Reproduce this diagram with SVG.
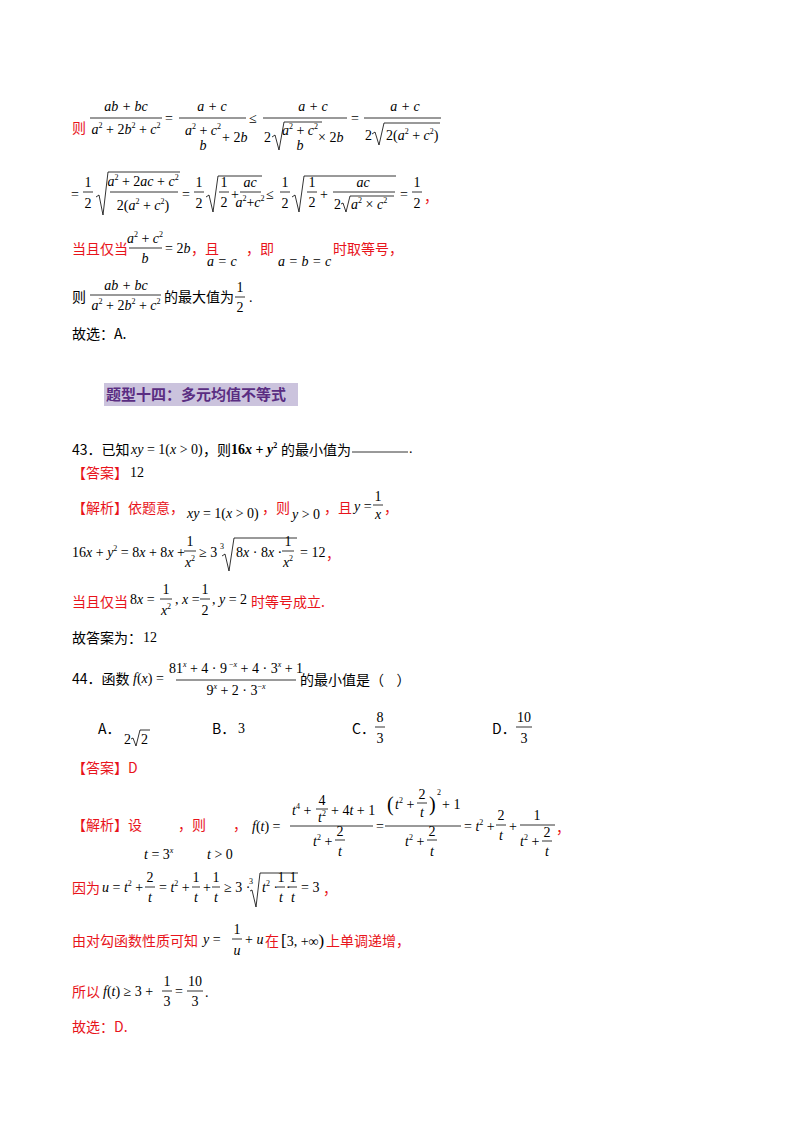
<svg xmlns="http://www.w3.org/2000/svg" width="800" height="1132" viewBox="0 0 800 1132">
<style>
.c{font-family:"Noto Sans CJK SC","Noto Sans",sans-serif;font-size:14px;fill:#000}
.r{fill:#e8141b}
.m{font-family:"Liberation Serif",serif;font-size:14px;fill:#000}
.i{font-style:italic}
.mid{text-anchor:middle}
.b{stroke:#000;stroke-width:0.8;fill:none}
.sup{font-size:8px}
</style>
<rect width="800" height="1132" fill="#fff"/>
<g id="block1">
<text class="c r" x="72" y="133">则</text>
<text class="m i mid" x="126" y="111">ab + bc</text>
<line class="b" x1="90" y1="118" x2="162" y2="118"/>
<text class="m mid" x="126" y="134"><tspan class="i">a</tspan><tspan class="sup" dy="-6">2</tspan><tspan dy="6"> + 2</tspan><tspan class="i">b</tspan><tspan class="sup" dy="-6">2</tspan><tspan dy="6"> + </tspan><tspan class="i">c</tspan><tspan class="sup" dy="-6">2</tspan></text>
<text class="m" x="165" y="123">=</text>
<text class="m i mid" x="212" y="111">a + c</text>
<line class="b" x1="179" y1="118" x2="246" y2="118"/>
<text class="m mid" x="203" y="135"><tspan class="i">a</tspan><tspan class="sup" dy="-6">2</tspan><tspan dy="6"> + </tspan><tspan class="i">c</tspan><tspan class="sup" dy="-6">2</tspan></text>
<text class="m i mid" x="203" y="150">b</text>
<text class="m" x="222" y="142">+ 2<tspan class="i">b</tspan></text>
<text class="m" x="249" y="123">≤</text>
<text class="m i mid" x="313" y="111">a + c</text>
<line class="b" x1="263" y1="118" x2="347" y2="118"/>
<text class="m" x="264" y="142">2</text>
<path class="b" d="M272,137 L275,135 L279,150 L284,122 L322,122"/>
<text class="m mid" x="300" y="135"><tspan class="i">a</tspan><tspan class="sup" dy="-6">2</tspan><tspan dy="6"> + </tspan><tspan class="i">c</tspan><tspan class="sup" dy="-6">2</tspan></text>
<text class="m i mid" x="300" y="150">b</text>
<text class="m" x="318" y="142">× 2<tspan class="i">b</tspan></text>
<text class="m" x="351" y="123">=</text>
<text class="m i mid" x="405" y="111">a + c</text>
<line class="b" x1="364" y1="118" x2="441" y2="118"/>
<text class="m" x="365" y="140">2</text>
<path class="b" d="M372,134 L375,132 L379,145 L384,123 L440,123"/>
<text class="m" x="386" y="140">2(<tspan class="i">a</tspan><tspan class="sup" dy="-6">2</tspan><tspan dy="6"> + </tspan><tspan class="i">c</tspan><tspan class="sup" dy="-6">2</tspan><tspan dy="6">)</tspan></text>

<text class="m" x="71" y="199">=</text>
<text class="m mid" x="88" y="187">1</text><line class="b" x1="83" y1="192" x2="93" y2="192"/><text class="m mid" x="88" y="208">2</text>
<path class="b" d="M96,197 L99,195 L103,215 L108,172 L180,172"/>
<text class="m mid" x="143" y="186"><tspan class="i">a</tspan><tspan class="sup" dy="-6">2</tspan><tspan dy="6"> + 2</tspan><tspan class="i">ac</tspan> + <tspan class="i">c</tspan><tspan class="sup" dy="-6">2</tspan></text>
<line class="b" x1="110" y1="192" x2="178" y2="192"/>
<text class="m mid" x="143" y="210">2(<tspan class="i">a</tspan><tspan class="sup" dy="-6">2</tspan><tspan dy="6"> + </tspan><tspan class="i">c</tspan><tspan class="sup" dy="-6">2</tspan><tspan dy="6">)</tspan></text>
<text class="m" x="182" y="199">=</text>
<text class="m mid" x="199" y="187">1</text><line class="b" x1="194" y1="192" x2="204" y2="192"/><text class="m mid" x="199" y="208">2</text>
<path class="b" d="M206,197 L209,195 L213,212 L218,176 L262,176"/>
<text class="m mid" x="224" y="187">1</text><line class="b" x1="219" y1="192" x2="229" y2="192"/><text class="m mid" x="224" y="207">2</text>
<text class="m" x="231" y="199">+</text>
<text class="m i mid" x="250" y="187">ac</text><line class="b" x1="240" y1="192" x2="261" y2="192"/>
<text class="m mid" x="250" y="207"><tspan class="i">a</tspan><tspan class="sup" dy="-6">2</tspan><tspan dy="6">+</tspan><tspan class="i">c</tspan><tspan class="sup" dy="-6">2</tspan></text>
<text class="m" x="266" y="199">≤</text>
<text class="m mid" x="285" y="187">1</text><line class="b" x1="280" y1="192" x2="290" y2="192"/><text class="m mid" x="285" y="208">2</text>
<path class="b" d="M292,197 L295,195 L299,212 L304,176 L396,176"/>
<text class="m mid" x="312" y="187">1</text><line class="b" x1="307" y1="192" x2="317" y2="192"/><text class="m mid" x="312" y="207">2</text>
<text class="m" x="320" y="199">+</text>
<text class="m i mid" x="363" y="187">ac</text><line class="b" x1="333" y1="192" x2="395" y2="192"/>
<text class="m" x="334" y="209">2</text>
<path class="b" d="M341,204 L343,203 L346,212 L350,196 L394,196"/>
<text class="m" x="351" y="209"><tspan class="i">a</tspan><tspan class="sup" dy="-6">2</tspan><tspan dy="6"> × </tspan><tspan class="i">c</tspan><tspan class="sup" dy="-6">2</tspan></text>
<text class="m" x="400" y="199">=</text>
<text class="m mid" x="417" y="187">1</text><line class="b" x1="412" y1="192" x2="422" y2="192"/><text class="m mid" x="417" y="208">2</text>
<text class="c r" x="424" y="202">，</text>

<text class="c r" x="72" y="254">当且仅当</text>
<text class="m mid" x="145" y="243"><tspan class="i">a</tspan><tspan class="sup" dy="-6">2</tspan><tspan dy="6"> + </tspan><tspan class="i">c</tspan><tspan class="sup" dy="-6">2</tspan></text>
<line class="b" x1="129" y1="248" x2="162" y2="248"/>
<text class="m i mid" x="145" y="263">b</text>
<text class="m" x="165" y="253">= 2<tspan class="i">b</tspan></text>
<text class="c r" x="191" y="254">，且</text>
<text class="m i" x="207" y="266">a = c</text>
<text class="c r" x="246" y="254">，即</text>
<text class="m i" x="278" y="266">a = b = c</text>
<text class="c r" x="333" y="254">时取等号，</text>

<text class="c" x="72" y="302">则</text>
<text class="m i mid" x="126" y="290">ab + bc</text>
<line class="b" x1="90" y1="295" x2="161" y2="295"/>
<text class="m mid" x="126" y="310"><tspan class="i">a</tspan><tspan class="sup" dy="-6">2</tspan><tspan dy="6"> + 2</tspan><tspan class="i">b</tspan><tspan class="sup" dy="-6">2</tspan><tspan dy="6"> + </tspan><tspan class="i">c</tspan><tspan class="sup" dy="-6">2</tspan></text>
<text class="c" x="164" y="302">的最大值为</text>
<text class="m mid" x="240" y="292">1</text><line class="b" x1="235" y1="297" x2="245" y2="297"/><text class="m mid" x="240" y="312">2</text>
<text class="m" x="249" y="302">.</text>
<text class="c" x="72" y="339">故选：A.</text>
</g>

<g id="heading">
<rect x="104" y="383" width="194" height="23" fill="#cbc3dd"/>
<text class="c" x="106" y="400" style="font-weight:bold;font-size:15px;fill:#5a2d82">题型十四：多元均值不等式</text>
</g>

<g id="q43">
<text class="c" x="72" y="455">43．已知</text>
<text class="m" x="131" y="454"><tspan class="i">xy</tspan> = 1(<tspan class="i">x</tspan> &gt; 0)</text>
<text class="c" x="203" y="455">，则</text>
<text class="m" x="231" y="454" font-weight="bold">16<tspan class="i">x</tspan> + <tspan class="i">y</tspan><tspan class="sup" dy="-6">2</tspan></text>
<text class="c" x="281" y="455">的最小值为</text>
<line class="b" x1="352" y1="452" x2="408" y2="452"/>
<text class="m" x="409" y="453">.</text>
<text class="c r" x="72" y="478">【答案】</text>
<text class="m" x="130" y="477">12</text>
<text class="c r" x="72" y="513">【解析】依题意，</text>
<text class="m" x="187" y="518"><tspan class="i">xy</tspan> = 1(<tspan class="i">x</tspan> &gt; 0)</text>
<text class="c r" x="262" y="513">，则</text>
<text class="m" x="292" y="519"><tspan class="i">y</tspan> &gt; 0</text>
<text class="c r" x="324" y="513">，且</text>
<text class="m" x="354" y="511"><tspan class="i">y</tspan> =</text>
<text class="m mid" x="378" y="501">1</text><line class="b" x1="373" y1="505" x2="383" y2="505"/><text class="m i mid" x="378" y="519">x</text>
<text class="c r" x="384" y="513">，</text>

<text class="m" x="72" y="557">16<tspan class="i">x</tspan> + <tspan class="i">y</tspan><tspan class="sup" dy="-6">2</tspan><tspan dy="6"> = 8</tspan><tspan class="i">x</tspan> + 8<tspan class="i">x</tspan> +</text>
<text class="m mid" x="190" y="546">1</text><line class="b" x1="184" y1="551" x2="196" y2="551"/><text class="m mid" x="190" y="567"><tspan class="i">x</tspan><tspan class="sup" dy="-6">2</tspan></text>
<text class="m" x="199" y="557">≥ 3</text>
<text class="m sup" x="220" y="549">3</text>
<path class="b" d="M222,556 L225,554 L229,571 L234,538 L297,538"/>
<text class="m" x="236" y="557">8<tspan class="i">x</tspan> · 8<tspan class="i">x</tspan> ·</text>
<text class="m mid" x="288" y="546">1</text><line class="b" x1="282" y1="551" x2="294" y2="551"/><text class="m mid" x="288" y="567"><tspan class="i">x</tspan><tspan class="sup" dy="-6">2</tspan></text>
<text class="m" x="300" y="557">= 12</text>
<text class="c r" x="326" y="559">，</text>

<text class="c r" x="72" y="607">当且仅当</text>
<text class="m" x="130" y="604">8<tspan class="i">x</tspan> =</text>
<text class="m mid" x="166" y="594">1</text><line class="b" x1="160" y1="599" x2="172" y2="599"/><text class="m mid" x="166" y="615"><tspan class="i">x</tspan><tspan class="sup" dy="-6">2</tspan></text>
<text class="m" x="175" y="604">, <tspan class="i">x</tspan> =</text>
<text class="m mid" x="205" y="594">1</text><line class="b" x1="200" y1="599" x2="210" y2="599"/><text class="m mid" x="205" y="615">2</text>
<text class="m" x="212" y="604">, <tspan class="i">y</tspan> = 2</text>
<text class="c r" x="251" y="607">时等号成立.</text>
<text class="c" x="72" y="643">故答案为：</text>
<text class="m" x="143" y="642">12</text>
</g>

<g id="q44">
<text class="c" x="72" y="684">44．函数</text>
<text class="m" x="133" y="683"><tspan class="i">f</tspan>(<tspan class="i">x</tspan>) =</text>
<text class="m mid" x="236" y="673">81<tspan class="sup i" dy="-6">x</tspan><tspan dy="6"> + 4 · 9</tspan><tspan class="sup" dy="-6"> −</tspan><tspan class="sup i">x</tspan><tspan dy="6"> + 4 · 3</tspan><tspan class="sup i" dy="-6">x</tspan><tspan dy="6"> + 1</tspan></text>
<line class="b" x1="176" y1="680" x2="296" y2="680"/>
<text class="m mid" x="236" y="695">9<tspan class="sup i" dy="-6">x</tspan><tspan dy="6"> + 2 · 3</tspan><tspan class="sup" dy="-6">−</tspan><tspan class="sup i">x</tspan></text>
<text class="c" x="300" y="685">的最小值是（&#160;&#160;&#160;&#160;）</text>

<text class="c" x="98" y="734">A．</text>
<text class="m" x="124" y="744">2</text>
<path class="b" d="M131,739 L133,738 L136,746 L140,730 L150,730"/>
<text class="m" x="141" y="744">2</text>
<text class="c" x="212" y="734">B．</text><text class="m" x="238" y="733">3</text>
<text class="c" x="352" y="734">C．</text>
<text class="m mid" x="380" y="722">8</text><line class="b" x1="375" y1="727" x2="385" y2="727"/><text class="m mid" x="380" y="743">3</text>
<text class="c" x="492" y="734">D．</text>
<text class="m mid" x="524" y="722">10</text><line class="b" x1="516" y1="727" x2="532" y2="727"/><text class="m mid" x="524" y="743">3</text>

<text class="c r" x="72" y="773">【答案】D</text>

<text class="c r" x="72" y="830">【解析】设</text>
<text class="c r" x="178" y="830">，则</text>
<text class="c r" x="233" y="830">，</text>
<text class="m" x="144" y="859"><tspan class="i">t</tspan> = 3<tspan class="sup i" dy="-6">x</tspan></text>
<text class="m" x="207" y="859"><tspan class="i">t</tspan> &gt; 0</text>
<text class="m" x="252" y="831"><tspan class="i">f</tspan>(<tspan class="i">t</tspan>) =</text>
<text class="m" x="292" y="815"><tspan class="i">t</tspan><tspan class="sup" dy="-6">4</tspan><tspan dy="6"> +</tspan></text>
<text class="m mid" x="322" y="805">4</text><line class="b" x1="316" y1="809" x2="328" y2="809"/><text class="m mid" x="322" y="822"><tspan class="i">t</tspan><tspan class="sup" dy="-6">2</tspan></text>
<text class="m" x="331" y="815">+ 4<tspan class="i">t</tspan> + 1</text>
<line class="b" x1="290" y1="826" x2="373" y2="826"/>
<text class="m" x="313" y="846"><tspan class="i">t</tspan><tspan class="sup" dy="-6">2</tspan><tspan dy="6"> +</tspan></text>
<text class="m mid" x="340" y="836">2</text><line class="b" x1="335" y1="840" x2="345" y2="840"/><text class="m i mid" x="340" y="856">t</text>
<text class="m" x="376" y="831">=</text>
<text class="m" x="387" y="811" style="font-size:20px">(</text>
<text class="m" x="395" y="809"><tspan class="i">t</tspan><tspan class="sup" dy="-6">2</tspan><tspan dy="6"> +</tspan></text>
<text class="m mid" x="422" y="799">2</text><line class="b" x1="417" y1="803" x2="427" y2="803"/><text class="m i mid" x="422" y="817">t</text>
<text class="m" x="429" y="811" style="font-size:20px">)</text>
<text class="m sup" x="437" y="795">2</text>
<text class="m" x="442" y="809">+ 1</text>
<line class="b" x1="385" y1="826" x2="461" y2="826"/>
<text class="m" x="405" y="846"><tspan class="i">t</tspan><tspan class="sup" dy="-6">2</tspan><tspan dy="6"> +</tspan></text>
<text class="m mid" x="432" y="836">2</text><line class="b" x1="427" y1="840" x2="437" y2="840"/><text class="m i mid" x="432" y="856">t</text>
<text class="m" x="464" y="831">= <tspan class="i">t</tspan><tspan class="sup" dy="-6">2</tspan><tspan dy="6"> +</tspan></text>
<text class="m mid" x="501" y="820">2</text><line class="b" x1="496" y1="825" x2="506" y2="825"/><text class="m i mid" x="501" y="840">t</text>
<text class="m" x="509" y="831">+</text>
<text class="m mid" x="537" y="820">1</text><line class="b" x1="520" y1="825" x2="555" y2="825"/>
<text class="m" x="520" y="846"><tspan class="i">t</tspan><tspan class="sup" dy="-6">2</tspan><tspan dy="6"> +</tspan></text>
<text class="m mid" x="547" y="837">2</text><line class="b" x1="542" y1="841" x2="552" y2="841"/><text class="m i mid" x="547" y="856">t</text>
<text class="c r" x="556" y="833">，</text>

<text class="c r" x="72" y="893">因为</text>
<text class="m" x="102" y="892"><tspan class="i">u</tspan> = <tspan class="i">t</tspan><tspan class="sup" dy="-6">2</tspan><tspan dy="6"> +</tspan></text>
<text class="m mid" x="150" y="882">2</text><line class="b" x1="145" y1="887" x2="155" y2="887"/><text class="m i mid" x="150" y="902">t</text>
<text class="m" x="159" y="892">= <tspan class="i">t</tspan><tspan class="sup" dy="-6">2</tspan><tspan dy="6"> +</tspan></text>
<text class="m mid" x="196" y="882">1</text><line class="b" x1="192" y1="887" x2="200" y2="887"/><text class="m i mid" x="196" y="902">t</text>
<text class="m" x="203" y="892">+</text>
<text class="m mid" x="216" y="882">1</text><line class="b" x1="212" y1="887" x2="220" y2="887"/><text class="m i mid" x="216" y="902">t</text>
<text class="m" x="224" y="892">≥ 3 ·</text>
<text class="m sup" x="249" y="884">3</text>
<path class="b" d="M250,891 L252,890 L256,907 L260,873 L298,873"/>
<text class="m" x="262" y="892"><tspan class="i">t</tspan><tspan class="sup" dy="-6">2</tspan><tspan dy="6"> ·</tspan></text>
<text class="m mid" x="281" y="882">1</text><line class="b" x1="277" y1="887" x2="285" y2="887"/><text class="m i mid" x="281" y="902">t</text>
<text class="m" x="286" y="892">·</text>
<text class="m mid" x="293" y="882">1</text><line class="b" x1="289" y1="887" x2="297" y2="887"/><text class="m i mid" x="293" y="902">t</text>
<text class="m" x="301" y="892">= 3</text>
<text class="c r" x="323" y="894">，</text>

<text class="c r" x="72" y="946">由对勾函数性质可知</text>
<text class="m" x="203" y="944"><tspan class="i">y</tspan> =</text>
<text class="m mid" x="237" y="934">1</text><line class="b" x1="232" y1="939" x2="242" y2="939"/><text class="m i mid" x="237" y="955">u</text>
<text class="m" x="245" y="944">+ <tspan class="i">u</tspan></text>
<text class="c r" x="265" y="946">在</text>
<text class="m" x="281" y="946"><tspan style="font-size:17px">[</tspan>3, +∞<tspan style="font-size:17px">)</tspan></text>
<text class="c r" x="326" y="946">上单调递增，</text>

<text class="c r" x="72" y="997">所以</text>
<text class="m" x="103" y="996"><tspan class="i">f</tspan>(<tspan class="i">t</tspan>) ≥ 3 +</text>
<text class="m mid" x="167" y="986">1</text><line class="b" x1="162" y1="991" x2="172" y2="991"/><text class="m mid" x="167" y="1006">3</text>
<text class="m" x="175" y="996">=</text>
<text class="m mid" x="195" y="986">10</text><line class="b" x1="187" y1="991" x2="203" y2="991"/><text class="m mid" x="195" y="1006">3</text>
<text class="m" x="205" y="997">.</text>
<text class="c r" x="72" y="1032">故选：D.</text>
</g>
</svg>
